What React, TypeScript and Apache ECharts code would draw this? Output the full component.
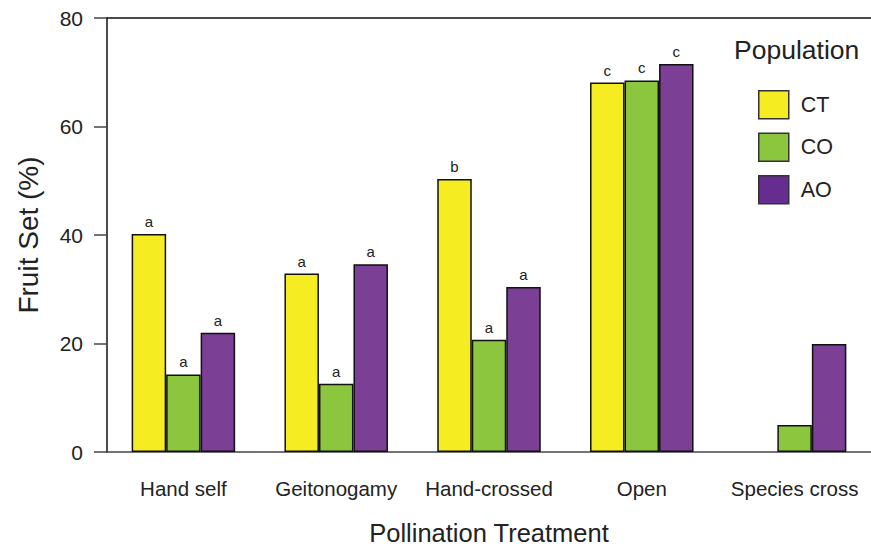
import React, { useEffect, useRef } from "react";
import * as echarts from "echarts";

const categories = ["Hand self", "Geitonogamy", "Hand-crossed", "Open", "Species cross"];
const seriesNames = ["CT", "CO", "AO"];
const ctValues = [40.2, 32.9, 50.3, 68.1, 0];
const coValues = [14.3, 12.6, 20.7, 68.5, 5.0];
const aoValues = [22.0, 34.6, 30.4, 71.5, 19.9];
const ctLetters = ["a", "a", "b", "c", ""];
const coLetters = ["a", "a", "a", "c", ""];
const aoLetters = ["a", "a", "a", "c", ""];
const yTicks = { min: 0, max: 80, interval: 20 };

const barColors = ["#F5EC22", "#8CC63F", "#7B3F96"];
const legendColors = ["#F5EC22", "#8CC63F", "#662D91"];
const FONT = "Liberation Sans, Arial, Helvetica, sans-serif";

export default function App() {
  const ref = useRef<HTMLDivElement>(null);
  useEffect(() => {
    if (!ref.current) return;
    const chart = echarts.init(ref.current, undefined, { renderer: "svg" });
    const values = [ctValues, coValues, aoValues];
    const letters = [ctLetters, coLetters, aoLetters];
    const series = seriesNames.map((name, i) => ({
      name,
      type: "bar",
      data: values[i].map((v) => (v === 0 ? null : v)),
      barWidth: 34.5,
      barGap: "0%",
      itemStyle: { color: barColors[i], borderColor: "#111", borderWidth: 1.5 },
      label: {
        show: true,
        position: "top",
        distance: 5,
        fontSize: 15,
        color: "#222",
        fontFamily: FONT,
        formatter: (p: any) => letters[i][p.dataIndex],
      },
    }));
    chart.setOption({
      animation: false,
      textStyle: { fontFamily: FONT },
      title: {
        text: "Population",
        left: 729,
        top: 31,
        textStyle: { fontSize: 26.5, fontWeight: "normal", color: "#222", fontFamily: FONT },
      },
      legend: {
        orient: "vertical",
        left: 753,
        top: 85,
        itemWidth: 30,
        itemHeight: 28,
        itemGap: 13,
        icon: "rect",
        textStyle: { fontSize: 21.5, color: "#222", fontFamily: FONT, padding: [0, 0, 0, 7] },
        data: seriesNames.map((n, i) => ({
          name: n,
          itemStyle: { color: legendColors[i], borderColor: "#333", borderWidth: 1.5 },
        })),
      },
      grid: { left: 107, right: 0, top: 18, bottom: 95, containLabel: false, outerBoundsMode: "none" },
      xAxis: [
        {
          type: "category",
          data: categories,
          axisLine: { show: true, lineStyle: { color: "#444", width: 1.5 } },
          axisTick: { show: false },
          axisLabel: { interval: 0, fontSize: 20.5, color: "#222", margin: 26, fontFamily: FONT },
          name: "Pollination Treatment",
          nameLocation: "middle",
          nameGap: 68,
          nameTextStyle: { fontSize: 25.5, lineHeight: 26, color: "#222", fontFamily: FONT },
        },
        {
          type: "category",
          position: "top",
          data: categories,
          axisLine: { show: true, lineStyle: { color: "#111", width: 1.5 } },
          axisTick: { show: false },
          axisLabel: { show: false },
        },
      ],
      yAxis: {
        type: "value",
        min: yTicks.min,
        max: yTicks.max,
        interval: yTicks.interval,
        splitLine: { show: false },
        axisLine: { show: true, lineStyle: { color: "#111", width: 1.5 } },
        axisTick: { show: true, length: 13, lineStyle: { color: "#444", width: 1.5 } },
        axisLabel: { fontSize: 21, color: "#222", margin: 24, fontFamily: FONT },
        name: "Fruit Set (%)",
        nameLocation: "middle",
        nameGap: 65,
        nameTextStyle: { fontSize: 28, color: "#222", fontFamily: FONT },
      },
      series,
    });
    return () => chart.dispose();
  }, []);
  return <div ref={ref} style={{ width: 871, height: 547, position: "absolute", left: 0, top: 0 }} />;
}
